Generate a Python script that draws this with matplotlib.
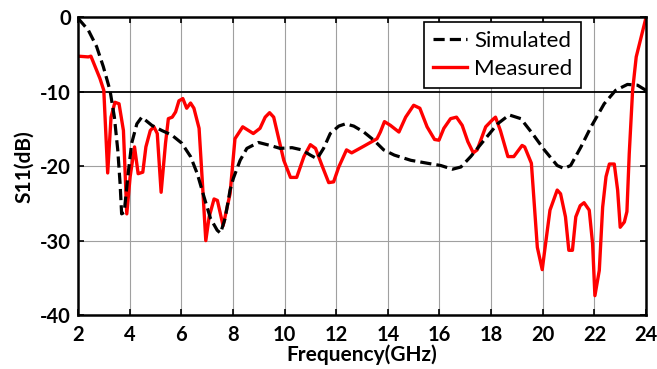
import matplotlib

matplotlib.use("Agg")
import matplotlib.pyplot as plt

plt.rcParams["font.family"] = ["Lato", "DejaVu Sans"]
plt.rcParams["axes.unicode_minus"] = False

# simulated S11 (GHz, dB)
sim_freq = [2.0, 2.4, 2.72, 2.98, 3.24, 3.41, 3.54, 3.63, 3.69, 3.79, 3.93, 4.08,
            4.28, 4.47, 4.86, 5.25, 5.63, 6.02, 6.36, 6.62, 6.88, 7.13, 7.39, 7.52,
            7.7, 7.89, 8.02, 8.28, 8.54, 8.99, 9.44, 9.83, 10.29, 10.67, 11.0, 11.26,
            11.51, 11.77, 12.1, 12.36, 12.68, 13.07, 13.46, 13.84, 14.25, 14.89, 15.54,
            16.05, 16.5, 16.83, 17.21, 17.73, 18.25, 18.7, 19.15, 19.6, 20.06, 20.56,
            20.82, 21.08, 21.48, 21.87, 22.38, 22.82, 23.28, 23.67, 24.0]
sim_s11 = [-0.1, -1.7, -3.9, -6.6, -9.8, -13.4, -17.8, -22.3, -26.4, -26.2, -21.4, -16.9,
           -14.3, -13.4, -14.5, -15.2, -15.8, -16.9, -18.7, -21.0, -24.1, -27.0, -28.6, -29.0,
           -27.0, -23.2, -21.6, -19.2, -17.6, -16.8, -17.2, -17.6, -17.5, -17.8, -18.5, -19.0,
           -17.6, -15.6, -14.6, -14.3, -14.6, -15.4, -16.5, -17.8, -18.5, -19.2, -19.6,
           -19.9, -20.4, -20.1, -18.7, -16.5, -14.3, -13.1, -13.6, -15.6, -17.8, -19.9,
           -20.3, -19.9, -17.4, -14.7, -11.6, -9.8, -9.0, -9.1, -9.8]

# measured S11 (GHz, dB)
meas_freq = [2.0, 2.4, 2.5, 2.85, 3.0, 3.15, 3.28, 3.43, 3.59, 3.76, 3.89, 4.02, 4.19,
             4.33, 4.51, 4.63, 4.8, 4.94, 5.07, 5.22, 5.39, 5.5, 5.65, 5.78, 5.91, 6.06,
             6.21, 6.36, 6.49, 6.69, 6.82, 6.95, 7.08, 7.27, 7.4, 7.62, 7.72, 7.89, 8.08,
             8.38, 8.79, 9.05, 9.25, 9.42, 9.58, 9.97, 10.23, 10.47, 10.75, 11.0, 11.2,
             11.45, 11.71, 11.9, 12.1, 12.4, 12.6, 13.07, 13.58, 13.71, 13.87, 14.1, 14.43,
             14.69, 15.0, 15.24, 15.52, 15.81, 15.98, 16.17, 16.43, 16.66, 16.88, 17.1,
             17.31, 17.46, 17.79, 18.04, 18.17, 18.36, 18.65, 18.88, 19.2, 19.3, 19.56,
             19.79, 19.98, 20.11, 20.28, 20.56, 20.69, 20.88, 21.01, 21.15, 21.28, 21.45,
             21.6, 21.8, 21.93, 22.02, 22.19, 22.32, 22.45, 22.58, 22.77, 22.9, 23.0,
             23.16, 23.26, 23.35, 23.48, 23.62, 24.0]
meas_s11 = [-5.2, -5.3, -5.2, -8.2, -9.8, -20.9, -13.4, -11.4, -11.6, -15.2, -26.4, -21.4, -17.4,
            -21.0, -20.8, -17.4, -15.2, -14.7, -15.6, -23.5, -16.9, -13.6, -13.4, -12.7, -11.2, -10.9,
            -12.2, -11.5, -12.2, -14.9, -22.3, -30.0, -26.8, -24.4, -24.6, -28.0, -26.4, -23.7, -16.3,
            -14.7, -15.6, -14.9, -13.4, -12.8, -13.4, -19.2, -21.5, -21.5, -18.7, -17.1, -17.6,
            -19.9, -22.2, -22.1, -20.1, -17.8, -18.2, -17.3, -16.3, -15.4, -14.0, -14.5, -15.4,
            -13.4, -11.8, -12.2, -14.7, -16.4, -16.5, -14.9, -13.6, -13.4, -14.5, -16.7,
            -18.2, -17.8, -14.7, -13.8, -13.4, -15.2, -18.7, -18.7, -17.2, -17.4, -19.6,
            -30.9, -33.9, -30.4, -25.9, -23.2, -23.7, -26.8, -31.3, -31.3, -26.8, -25.3,
            -24.9, -25.9, -30.4, -37.4, -34.0, -25.5, -21.4, -19.7, -19.7, -23.2, -28.2,
            -27.5, -26.1, -18.3, -9.8, -5.3, 0.0]

x_ticks = list(range(2, 25, 2))
y_ticks = [0, -10, -20, -30, -40]

fig = plt.figure(figsize=(6.57, 3.69), dpi=100)
ax = fig.add_axes([0.1187, 0.1463, 0.8646, 0.8063])

for x in x_ticks[1:-1]:
    ax.axvline(x, color="#a0a0a0", lw=0.8, zorder=1)
for y in (-20, -30):
    ax.axhline(y, color="#a0a0a0", lw=0.8, zorder=1)
ax.axhline(-10, color="black", lw=1.3, zorder=1)

ax.plot(sim_freq, sim_s11, color="black", lw=2.3, ls=(0, (3.5, 1.6)),
        label="Simulated", zorder=3)
ax.plot(meas_freq, meas_s11, color="#ff0000", lw=2.4, label="Measured", zorder=2)

ax.set_xlim(2, 24)
ax.set_ylim(-40, 0)
ax.set_xticks(x_ticks)
ax.set_yticks(y_ticks)
ax.set_xticklabels([str(v) for v in x_ticks], fontweight="bold", fontsize=14.5)
ax.set_yticklabels([str(v) for v in y_ticks], fontweight="bold", fontsize=14.5)
ax.tick_params(axis="x", pad=7)
ax.tick_params(axis="y", pad=5)
ax.tick_params(direction="in", top=True, right=True, length=4, width=1.2)
for s in ax.spines.values():
    s.set_linewidth(1.8)

ax.set_xlabel("Frequency(GHz)", fontweight="bold", fontsize=15, labelpad=0)
ax.set_ylabel("S11(dB)", fontweight="bold", fontsize=15, labelpad=4)

leg = ax.legend(loc="upper right", bbox_to_anchor=(0.886, 0.985), fontsize=16,
                frameon=True, fancybox=False, edgecolor="black", framealpha=1,
                handlelength=1.55, borderpad=0.4, labelspacing=0.35,
                handletextpad=0.3, borderaxespad=0)
leg.get_frame().set_linewidth(1.2)

fig.savefig("out.png", dpi=100)
